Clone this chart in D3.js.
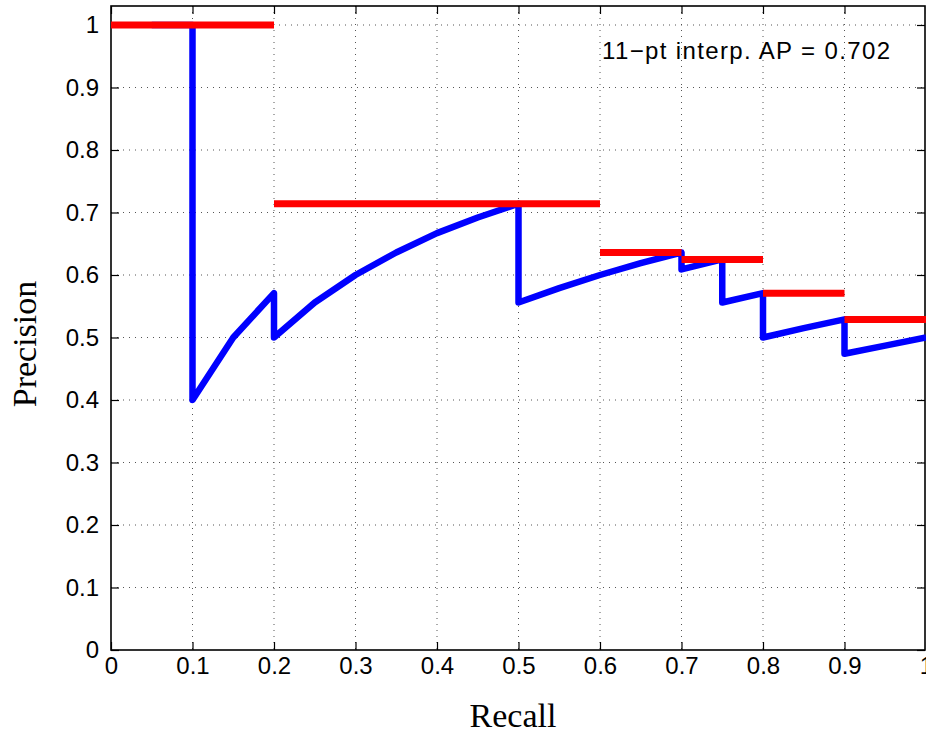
<!DOCTYPE html>
<html>
<head>
<meta charset="utf-8">
<script src="https://cdn.jsdelivr.net/npm/d3@7"></script>
<style>
  html, body { margin: 0; padding: 0; background: #fff; overflow: hidden; }
  svg { display: block; }
</style>
</head>
<body>
<svg id="chart" width="926" height="736"></svg>
<script>
// ---- data ----
const recall = [0.05, 0.1, 0.1, 0.15, 0.2, 0.2, 0.25, 0.3, 0.35, 0.4, 0.45, 0.5, 0.5, 0.55, 0.6, 0.65, 0.7, 0.7, 0.75, 0.75, 0.8, 0.8, 0.85, 0.9, 0.9, 0.95, 1.0];
const precision = [1.0, 1.0, 0.4, 0.5, 0.571, 0.5, 0.556, 0.6, 0.636, 0.667, 0.692, 0.714, 0.556, 0.579, 0.6, 0.619, 0.636, 0.609, 0.625, 0.556, 0.571, 0.5, 0.515, 0.529, 0.474, 0.487, 0.5];
const interpStart = [0.0, 0.2, 0.6, 0.7, 0.8, 0.9];
const interpEnd = [0.2, 0.6, 0.7, 0.8, 0.9, 1.0];
const interpPrecision = [1.0, 0.714, 0.636, 0.625, 0.571, 0.529];
const tickValues = [0, 0.1, 0.2, 0.3, 0.4, 0.5, 0.6, 0.7, 0.8, 0.9, 1];
const tickLabels = ["0", "0.1", "0.2", "0.3", "0.4", "0.5", "0.6", "0.7", "0.8", "0.9", "1"];
const annotation = "11\u2212pt interp. AP = 0.702";
const xLabel = "Recall";
const yLabel = "Precision";

// ---- layout ----
const svg = d3.select("#chart");
const pLeft = 111, pRight = 926, pTop = 6, pBottom = 650;
const x = d3.scaleLinear().domain([0, 1]).range([pLeft, pRight]);
const y = d3.scaleLinear().domain([0, 1]).range([pBottom, 25]);
const sansFont = "'Liberation Sans', Arial, Helvetica, sans-serif";
const serifFont = "'Liberation Serif', 'Times New Roman', serif";

// grid
const grid = svg.append("g").attr("stroke", "#555").attr("stroke-width", 1)
  .attr("stroke-dasharray", "1,5");
tickValues.forEach(v => {
  if (v > 0 && v < 1) {
    grid.append("line").attr("x1", x(v)).attr("x2", x(v)).attr("y1", pTop).attr("y2", pBottom);
  }
  if (v > 0) {
    grid.append("line").attr("x1", pLeft).attr("x2", pRight).attr("y1", y(v)).attr("y2", y(v));
  }
});

// axes
const fmt = (d, i) => tickLabels[i];
const xAxis = svg.append("g").attr("transform", `translate(0,${pBottom})`)
  .call(d3.axisBottom(x).tickValues(tickValues).tickFormat(fmt).tickSizeInner(-8).tickSizeOuter(0).tickPadding(7));
const xAxisTop = svg.append("g").attr("transform", `translate(0,${pTop})`)
  .call(d3.axisTop(x).tickValues(tickValues).tickFormat("").tickSizeInner(-8).tickSizeOuter(0));
const yAxis = svg.append("g").attr("transform", `translate(${pLeft},0)`)
  .call(d3.axisLeft(y).tickValues(tickValues).tickFormat(fmt).tickSizeInner(-8).tickSizeOuter(0).tickPadding(12));
const yAxisRight = svg.append("g").attr("transform", `translate(${pRight - 1},0)`)
  .call(d3.axisRight(y).tickValues(tickValues).tickFormat("").tickSizeInner(-8).tickSizeOuter(0));

[xAxis, xAxisTop, yAxis, yAxisRight].forEach(g => {
  g.select(".domain").remove();
  g.selectAll("line").attr("stroke", "#000").attr("stroke-width", 1.2);
  g.selectAll("text").attr("font-family", sansFont).attr("font-size", 24).attr("fill", "#000");
});
xAxis.selectAll("text").attr("dy", "0.71em");

// box
svg.append("rect").attr("x", pLeft).attr("y", pTop).attr("width", pRight - pLeft - 1).attr("height", pBottom - pTop)
  .attr("fill", "none").attr("stroke", "#000").attr("stroke-width", 1.6);

// PR curve
const pts = recall.map((r, i) => [r, precision[i]]);
const line = d3.line().x(d => x(d[0])).y(d => y(d[1]));
svg.append("path").attr("d", line(pts)).attr("fill", "none")
  .attr("stroke", "#0000ff").attr("stroke-width", 6.5).attr("stroke-linejoin", "round");

// interpolated precision
svg.append("g").selectAll("line").data(interpPrecision).join("line")
  .attr("x1", (d, i) => x(interpStart[i])).attr("x2", (d, i) => x(interpEnd[i]))
  .attr("y1", d => y(d)).attr("y2", d => y(d))
  .attr("stroke", "#ff0000").attr("stroke-width", 7);

// annotation
svg.append("text").attr("x", 602).attr("y", 59).text(annotation)
  .attr("font-family", sansFont).attr("font-size", 24).attr("fill", "#000")
  .attr("textLength", 288).attr("lengthAdjust", "spacing");

// axis labels
svg.append("text").attr("x", 513).attr("y", 727).attr("text-anchor", "middle")
  .attr("font-family", serifFont).attr("font-size", 34).attr("fill", "#000").text(xLabel);
svg.append("text").attr("transform", `translate(36,344) rotate(-90)`)
  .attr("text-anchor", "middle")
  .attr("font-family", serifFont).attr("font-size", 34).attr("fill", "#000").text(yLabel);
</script>
</body>
</html>
